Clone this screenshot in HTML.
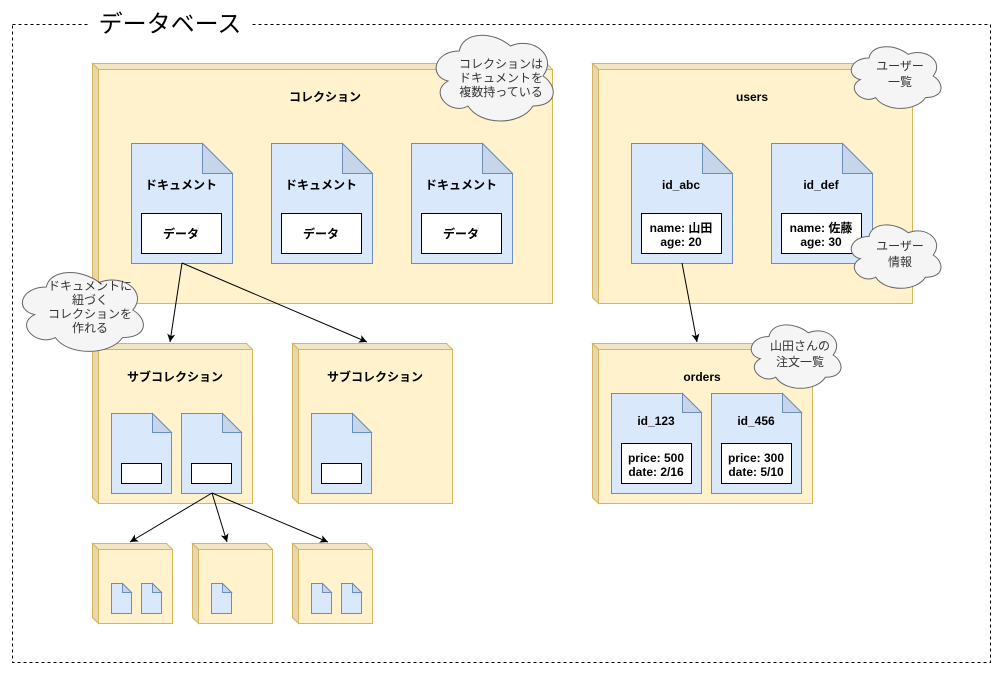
<!DOCTYPE html>
<html><head><meta charset="utf-8"><style>
body{margin:0;background:#fff;}
svg text{font-family:"Liberation Sans","Noto Sans CJK JP",sans-serif;}
</style></head><body>
<svg width="997" height="674" viewBox="0 0 997 674" xmlns="http://www.w3.org/2000/svg">
<defs>
<marker id="ah" markerWidth="10" markerHeight="10" refX="9" refY="5" orient="auto" markerUnits="userSpaceOnUse"><path d="M1,1 L9,5 L1,9 L3,5 Z" fill="#000"/></marker>
<symbol id="cloud" viewBox="0 0 120 80" preserveAspectRatio="none"><path d="M25 20 C5 20 0 40 16 44 C0 53 18 72 32 64 C42 80 74 80 84 64 C104 64 104 48 92 40 C104 24 84 8 66 16 C52 4 28 4 25 20 Z" fill="#f5f5f5" stroke="#666" stroke-width="1" vector-effect="non-scaling-stroke"/></symbol>
</defs>
<rect x="12.5" y="24.5" width="978" height="638" fill="none" stroke="#000" stroke-dasharray="3,3"/>
<rect x="90" y="8" width="160" height="32" fill="#fff"/>
<text x="170" y="32" font-size="24" text-anchor="middle" fill="#000">データベース</text>

<g id="boxes" fill="#fff2cc" stroke="#d6b656">
<!-- generic 3D box: outer, top strip, left strip -->
</g>
<g stroke="#d6b656" stroke-width="1">
<!-- collection -->
<path d="M92.5 63.5 H546.5 L552.5 69.5 V303.5 H98.5 L92.5 297.5 Z" fill="#fff2cc"/>
<path d="M92.5 63.5 H546.5 L552.5 69.5 H98.5 Z" fill="#f2e6c2"/><path d="M92.5 63.5 L98.5 69.5 V303.5 L92.5 297.5 Z" fill="#e6d7b0"/>
<!-- users -->
<path d="M592.5 63.5 H906.5 L912.5 69.5 V303.5 H598.5 L592.5 297.5 Z" fill="#fff2cc"/>
<path d="M592.5 63.5 H906.5 L912.5 69.5 H598.5 Z" fill="#f2e6c2"/><path d="M592.5 63.5 L598.5 69.5 V303.5 L592.5 297.5 Z" fill="#e6d7b0"/>
<!-- sub1 -->
<path d="M92.5 343.5 H246.5 L252.5 349.5 V503.5 H98.5 L92.5 497.5 Z" fill="#fff2cc"/>
<path d="M92.5 343.5 H246.5 L252.5 349.5 H98.5 Z" fill="#f2e6c2"/><path d="M92.5 343.5 L98.5 349.5 V503.5 L92.5 497.5 Z" fill="#e6d7b0"/>
<!-- sub2 -->
<path d="M292.5 343.5 H446.5 L452.5 349.5 V503.5 H298.5 L292.5 497.5 Z" fill="#fff2cc"/>
<path d="M292.5 343.5 H446.5 L452.5 349.5 H298.5 Z" fill="#f2e6c2"/><path d="M292.5 343.5 L298.5 349.5 V503.5 L292.5 497.5 Z" fill="#e6d7b0"/>
<!-- orders -->
<path d="M592.5 343.5 H806.5 L812.5 349.5 V503.5 H598.5 L592.5 497.5 Z" fill="#fff2cc"/>
<path d="M592.5 343.5 H806.5 L812.5 349.5 H598.5 Z" fill="#f2e6c2"/><path d="M592.5 343.5 L598.5 349.5 V503.5 L592.5 497.5 Z" fill="#e6d7b0"/>
<!-- small boxes -->
<path d="M92.5 543.5 H166.5 L172.5 549.5 V623.5 H98.5 L92.5 617.5 Z" fill="#fff2cc"/>
<path d="M92.5 543.5 H166.5 L172.5 549.5 H98.5 Z" fill="#f2e6c2"/><path d="M92.5 543.5 L98.5 549.5 V623.5 L92.5 617.5 Z" fill="#e6d7b0"/>
<path d="M192.5 543.5 H266.5 L272.5 549.5 V623.5 H198.5 L192.5 617.5 Z" fill="#fff2cc"/>
<path d="M192.5 543.5 H266.5 L272.5 549.5 H198.5 Z" fill="#f2e6c2"/><path d="M192.5 543.5 L198.5 549.5 V623.5 L192.5 617.5 Z" fill="#e6d7b0"/>
<path d="M292.5 543.5 H366.5 L372.5 549.5 V623.5 H298.5 L292.5 617.5 Z" fill="#fff2cc"/>
<path d="M292.5 543.5 H366.5 L372.5 549.5 H298.5 Z" fill="#f2e6c2"/><path d="M292.5 543.5 L298.5 549.5 V623.5 L292.5 617.5 Z" fill="#e6d7b0"/>
</g>

<g font-size="12" font-weight="bold" text-anchor="middle" fill="#000">
<text x="325" y="101">コレクション</text>
<text x="752" y="101">users</text>
<text x="175" y="381">サブコレクション</text>
<text x="375" y="381">サブコレクション</text>
<text x="702" y="381">orders</text>
</g>

<g stroke="#6c8ebf" stroke-width="1">
<!-- large docs: w101 h120 fold 30 -->
<path d="M131.5 143.5 H202.5 L232.5 173.5 V263.5 H131.5 Z" fill="#dae8fc"/><path d="M202.5 143.5 V173.5 H232.5 Z" fill="#c6d5ea"/>
<path d="M271.5 143.5 H342.5 L372.5 173.5 V263.5 H271.5 Z" fill="#dae8fc"/><path d="M342.5 143.5 V173.5 H372.5 Z" fill="#c6d5ea"/>
<path d="M411.5 143.5 H482.5 L512.5 173.5 V263.5 H411.5 Z" fill="#dae8fc"/><path d="M482.5 143.5 V173.5 H512.5 Z" fill="#c6d5ea"/>
<path d="M631.5 143.5 H702.5 L732.5 173.5 V263.5 H631.5 Z" fill="#dae8fc"/><path d="M702.5 143.5 V173.5 H732.5 Z" fill="#c6d5ea"/>
<path d="M771.5 143.5 H842.5 L872.5 173.5 V263.5 H771.5 Z" fill="#dae8fc"/><path d="M842.5 143.5 V173.5 H872.5 Z" fill="#c6d5ea"/>
<!-- orders docs -->
<path d="M611.5 393.5 H682.5 L701.5 412.5 V493.5 H611.5 Z" fill="#dae8fc"/><path d="M682.5 393.5 V412.5 H701.5 Z" fill="#c6d5ea"/>
<path d="M711.5 393.5 H782.5 L801.5 412.5 V493.5 H711.5 Z" fill="#dae8fc"/><path d="M782.5 393.5 V412.5 H801.5 Z" fill="#c6d5ea"/>
<!-- sub docs -->
<path d="M111.5 413.5 H152.5 L171.5 432.5 V493.5 H111.5 Z" fill="#dae8fc"/><path d="M152.5 413.5 V432.5 H171.5 Z" fill="#c6d5ea"/>
<path d="M181.5 413.5 H222.5 L241.5 432.5 V493.5 H181.5 Z" fill="#dae8fc"/><path d="M222.5 413.5 V432.5 H241.5 Z" fill="#c6d5ea"/>
<path d="M311.5 413.5 H352.5 L371.5 432.5 V493.5 H311.5 Z" fill="#dae8fc"/><path d="M352.5 413.5 V432.5 H371.5 Z" fill="#c6d5ea"/>
<!-- tiny docs 20x30 fold 9 -->
<path d="M111.5 583.5 H122.5 L131.5 592.5 V613.5 H111.5 Z" fill="#dae8fc"/><path d="M122.5 583.5 V592.5 H131.5 Z" fill="#c6d5ea"/>
<path d="M141.5 583.5 H152.5 L161.5 592.5 V613.5 H141.5 Z" fill="#dae8fc"/><path d="M152.5 583.5 V592.5 H161.5 Z" fill="#c6d5ea"/>
<path d="M211.5 583.5 H222.5 L231.5 592.5 V613.5 H211.5 Z" fill="#dae8fc"/><path d="M222.5 583.5 V592.5 H231.5 Z" fill="#c6d5ea"/>
<path d="M311.5 583.5 H322.5 L331.5 592.5 V613.5 H311.5 Z" fill="#dae8fc"/><path d="M322.5 583.5 V592.5 H331.5 Z" fill="#c6d5ea"/>
<path d="M341.5 583.5 H352.5 L361.5 592.5 V613.5 H341.5 Z" fill="#dae8fc"/><path d="M352.5 583.5 V592.5 H361.5 Z" fill="#c6d5ea"/>
</g>

<g fill="#fff" stroke="#000" stroke-width="1">
<rect x="141.5" y="213.5" width="80" height="40"/>
<rect x="281.5" y="213.5" width="80" height="40"/>
<rect x="421.5" y="213.5" width="80" height="40"/>
<rect x="641.5" y="213.5" width="80" height="40"/>
<rect x="781.5" y="213.5" width="80" height="40"/>
<rect x="621.5" y="443.5" width="70" height="40"/>
<rect x="721.5" y="443.5" width="70" height="40"/>
<rect x="121.5" y="463.5" width="40" height="20"/>
<rect x="191.5" y="463.5" width="40" height="20"/>
<rect x="321.5" y="463.5" width="40" height="20"/>
</g>

<g font-size="12" font-weight="bold" text-anchor="middle" fill="#000">
<text x="181" y="189">ドキュメント</text>
<text x="321" y="189">ドキュメント</text>
<text x="461" y="189">ドキュメント</text>
<text x="181" y="238">データ</text>
<text x="321" y="238">データ</text>
<text x="461" y="238">データ</text>
<text x="681" y="189">id_abc</text>
<text x="821" y="189">id_def</text>
<text x="681" y="232">name: 山田</text>
<text x="681" y="246">age: 20</text>
<text x="821" y="232">name: 佐藤</text>
<text x="821" y="246">age: 30</text>
<text x="656" y="425">id_123</text>
<text x="756" y="425">id_456</text>
<text x="656" y="462">price: 500</text>
<text x="656" y="476">date: 2/16</text>
<text x="756" y="462">price: 300</text>
<text x="756" y="476">date: 5/10</text>
</g>

<g stroke="#000" stroke-width="1" fill="none" marker-end="url(#ah)">
<line x1="182" y1="263" x2="170" y2="342"/>
<line x1="182" y1="263" x2="367" y2="342"/>
<line x1="682" y1="263" x2="697" y2="342"/>
<line x1="212" y1="493" x2="130" y2="542"/>
<line x1="212" y1="493" x2="227" y2="542"/>
<line x1="212" y1="493" x2="328" y2="542"/>
</g>

<use href="#cloud" x="428" y="26" width="150" height="100"/>
<use href="#cloud" x="845" y="40" width="115" height="72"/>
<use href="#cloud" x="845" y="218" width="115" height="74"/>
<use href="#cloud" x="745" y="318" width="115" height="74"/>
<use href="#cloud" x="14" y="264" width="155" height="92"/>

<g font-size="12" text-anchor="middle" fill="#333">
<text x="501" y="68">コレクションは</text>
<text x="501" y="82">ドキュメントを</text>
<text x="501" y="96">複数持っている</text>
<text x="900" y="70">ユーザー</text>
<text x="900" y="86">一覧</text>
<text x="900" y="250">ユーザー</text>
<text x="900" y="266">情報</text>
<text x="800" y="350">山田さんの</text>
<text x="800" y="366">注文一覧</text>
<text x="90" y="290">ドキュメントに</text>
<text x="90" y="304">紐づく</text>
<text x="90" y="318">コレクションを</text>
<text x="90" y="332">作れる</text>
</g>
</svg>
</body></html>
